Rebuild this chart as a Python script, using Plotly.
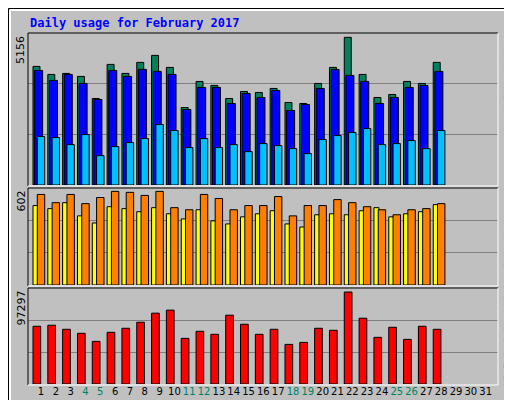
import plotly.graph_objects as go

days = list(range(1, 29))
hits = [4023,3751,3785,3683,2935,4091,3785,4159,4397,3989,2629,3513,3377,2935,3173,3139,3275,2799,2765,3445,3989,5009,3751,2969,3071,3513,3445,4159]
files = [3887,3547,3751,3445,2901,3887,3683,3921,3853,3751,2561,3309,3309,2765,3105,2969,3207,2527,2731,3275,3921,3717,3513,2765,2969,3309,3377,3853]
pages = [1643,1609,1371,1711,997,1303,1439,1575,2051,1847,1269,1575,1269,1371,1133,1405,1337,1235,1065,1541,1677,1779,1915,1371,1405,1507,1235,1847]
visits = [493,474,511,429,385,486,474,455,480,442,410,467,398,379,423,442,461,379,360,436,442,436,461,480,423,442,455,499]
sites = [562,511,562,505,543,581,575,556,581,480,467,562,537,467,493,493,549,429,493,493,530,511,486,467,436,467,474,505]
kbytes = [58514,59535,55453,51370,43205,52391,56473,62597,71782,74844,46267,53411,50350,69741,60556,50350,55453,40144,42185,56473,54432,93215,66679,47288,57494,45247,58514,55453]
max_hits, max_visits, max_kb = 5156, 602, 97297
weekend = {4, 5, 11, 12, 18, 19, 25, 26}
tick_days = list(range(1, 32))

fig = go.Figure()
ln = dict(color="black", width=1)
def bar(y, color, off, w, ax):
    fig.add_trace(go.Bar(x=days, y=y, marker=dict(color=color, line=ln), offset=off, width=w,
                         xaxis="x" if ax == 1 else f"x{ax}", yaxis="y" if ax == 1 else f"y{ax}"))
bar(hits, "#00805c", -0.54, 0.47, 1)
bar(files, "#0000ff", -0.43, 0.54, 1)
bar(pages, "#00c0ff", -0.25, 0.5, 1)
bar(visits, "#ffff00", -0.54, 0.34, 2)
bar(sites, "#ff8000", -0.25, 0.5, 2)
bar(kbytes, "#ff0000", -0.54, 0.52, 3)

xr = [0.123, 31.83]
xdom = [20/512, 490/512]
doms = [[1-177/400, 1-25/400], [1-277/400, 1-180/400], [1-376/400, 1-280/400]]
maxes = [max_hits, max_visits, max_kb]
ticktext = [f'<span style="color:{"#008060" if d in weekend else "black"}">{d}</span>' for d in tick_days]
lay = dict(width=512, height=400, margin=dict(l=0, r=0, t=0, b=0), paper_bgcolor="#c0c0c0",
           plot_bgcolor="#c0c0c0", barmode="overlay", showlegend=False,
           font=dict(family="DejaVu Sans Mono", size=11, color="black"))
for i in range(3):
    s = "" if i == 0 else str(i+1)
    lay["xaxis"+s] = dict(range=xr, domain=xdom, anchor="y"+s, showgrid=False, zeroline=False,
                          tickvals=tick_days, ticktext=ticktext, showticklabels=(i == 2), ticks="",
                          tickangle=0, ticklen=0,
                          tickfont=dict(family="DejaVu Sans", size=10))
    lay["yaxis"+s] = dict(range=[0, maxes[i]], domain=doms[i], anchor="x"+s, showticklabels=False,
                          tickvals=[maxes[i]/3, 2*maxes[i]/3], gridcolor="#808080", gridwidth=1, zeroline=False)
fig.update_layout(**lay)

shapes = []
def rect(x0, y0, x1, y1, tl, br, w=1):
    shapes.append(dict(type="line", xref="paper", yref="paper", x0=x0/512, y0=1-y0/400, x1=x1/512, y1=1-y0/400, line=dict(color=tl, width=w)))
    shapes.append(dict(type="line", xref="paper", yref="paper", x0=x0/512, y0=1-y0/400, x1=x0/512, y1=1-y1/400, line=dict(color=tl, width=w)))
    shapes.append(dict(type="line", xref="paper", yref="paper", x0=x0/512, y0=1-y1/400, x1=x1/512, y1=1-y1/400, line=dict(color=br, width=w)))
    shapes.append(dict(type="line", xref="paper", yref="paper", x0=x1/512, y0=1-y0/400, x1=x1/512, y1=1-y1/400, line=dict(color=br, width=w)))
rect(0.5, 0.5, 511.5, 399.5, "black", "black")
rect(2, 2, 509, 397, "white", "#808080", 2)
rect(20, 25, 490, 178, "black", "white")
rect(20, 180, 490, 278, "black", "white")
rect(20, 280, 490, 377, "black", "white")
fig.update_layout(shapes=shapes)

ann = [dict(text="<b>Daily usage for February 2017</b>", x=20/512, y=1-15/400, xref="paper", yref="paper",
            xanchor="left", yanchor="middle", showarrow=False, font=dict(color="#0000ff", size=12, family="DejaVu Sans Mono"))]
for lab, yt in [("5156", 26), ("602", 181), ("97297", 281)]:
    ann.append(dict(text=lab, textangle=-90, x=13/512, y=1-yt/400, xref="paper", yref="paper",
                    xanchor="center", yanchor="top", showarrow=False, font=dict(size=11, family="DejaVu Sans")))

def vlabel(segments, y_bottom, cw):
    idx = 0
    for txt, col in segments:
        n = len(txt)
        yc = y_bottom - (idx + n/2) * cw
        ann.append(dict(text=txt, textangle=-90, x=500/512, y=1-yc/400, xref="paper", yref="paper",
                        xanchor="center", yanchor="middle", showarrow=False,
                        font=dict(size=9, family="DejaVu Sans Mono", color=col)))
        idx += n
vlabel([("Pages", "#00c0ff"), (" / ", "black"), ("Files", "#0000ff"), (" / ", "black"), ("Hits", "#00805c")], 137, 5.45)
vlabel([("kB F", "#ff0000"), (" / ", "black"), ("kB In", "#0000ff"), (" / ", "black"), ("kB Out", "#00805c"),
        (" ", "black"), ("Sites", "#ff8000"), (" / ", "black"), ("Visits", "#ffff00")], 377, 5.3)
fig.update_layout(annotations=ann)
fig.write_html("out.html")
